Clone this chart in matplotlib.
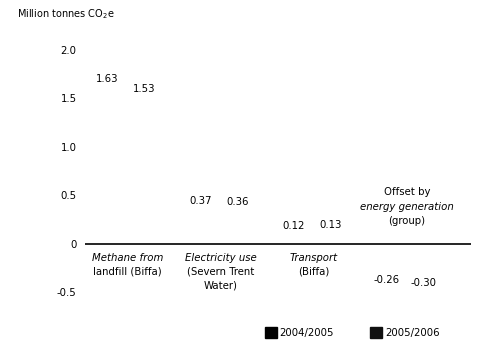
import numpy as np
import matplotlib.pyplot as plt
from matplotlib.patches import Patch

# data
categories = ["Methane from landfill (Biffa)", "Electricity use (Severn Trent Water)",
              "Transport (Biffa)", "Offset by energy generation (group)"]
years = ["2004/2005", "2005/2006"]
values_0405 = [1.63, 0.37, 0.12, -0.26]
values_0506 = [1.53, 0.36, 0.13, -0.30]
value_labels_0405 = ["1.63", "0.37", "0.12", "-0.26"]
value_labels_0506 = ["1.53", "0.36", "0.13", "-0.30"]
# category label lines: (text, italic)
cat_lines = [
    [("Methane from", True), ("landfill (Biffa)", False)],
    [("Electricity use", True), ("(Severn Trent", False), ("Water)", False)],
    [("Transport", True), ("(Biffa)", False)],
    [("Offset by", False), ("energy generation", True), ("(group)", False)],
]
yticks = [-0.5, 0, 0.5, 1.0, 1.5, 2.0]
ytick_labels = ["-0.5", "0", "0.5", "1.0", "1.5", "2.0"]

plt.rcParams["font.family"] = ["DejaVu Sans"]
fs = 7.3

fig = plt.figure(figsize=(4.79, 3.40), dpi=100)
ax = fig.add_axes([85 / 479, 38 / 340, 386 / 479, 262 / 340])

x = np.arange(len(categories))
w = 0.2
# bars came out blank in the source print, keep them white
b1 = ax.bar(x - w, values_0405, width=0.3, color="white")
b2 = ax.bar(x + w, values_0506, width=0.3, color="white")

for bars, labels in [(b1, value_labels_0405), (b2, value_labels_0506)]:
    for bar, lab in zip(bars, labels):
        v = bar.get_height()
        cx = bar.get_x() + bar.get_width() / 2
        if v >= 0:
            ax.annotate(lab, (cx, v), xytext=(0, 1), textcoords="offset points",
                        ha="center", va="bottom", fontsize=fs)
        else:
            ax.annotate(lab, (cx, v), xytext=(0, -4), textcoords="offset points",
                        ha="center", va="top", fontsize=fs)

# category labels, below axis for positive groups, above for the negative one
for i, lines in enumerate(cat_lines):
    for j, (txt, it) in enumerate(lines):
        if values_0405[i] >= 0:
            off = -10 - 10 * j
        else:
            off = 37 - 10.3 * j
        ax.annotate(txt, (x[i] + 0.02, 0), xytext=(0, off), textcoords="offset points",
                    ha="center", va="center", fontsize=fs,
                    style="italic" if it else "normal")

ax.axhline(0, color="black", linewidth=1.2)
ax.set_xlim(-0.44, 3.71)
ax.set_ylim(-0.6, 2.1)
ax.set_yticks(yticks)
ax.set_yticklabels(ytick_labels, fontsize=fs)
ax.tick_params(axis="y", length=0, pad=6)
ax.set_xticks([])
for s in ax.spines.values():
    s.set_visible(False)

fig.text(17 / 479, 1 - 14 / 340, "Million tonnes CO$_2$e", fontsize=7, va="center")

handles = [Patch(facecolor="black", edgecolor="black"), Patch(facecolor="#111111", edgecolor="#111111")]
fig.legend(handles, years, loc="center", bbox_to_anchor=(0.735, 0.022), ncol=2,
           frameon=False, fontsize=fs, handlelength=1.2, handleheight=1.4,
           handletextpad=0.25, columnspacing=3.6)

fig.savefig("out.png", dpi=100)
